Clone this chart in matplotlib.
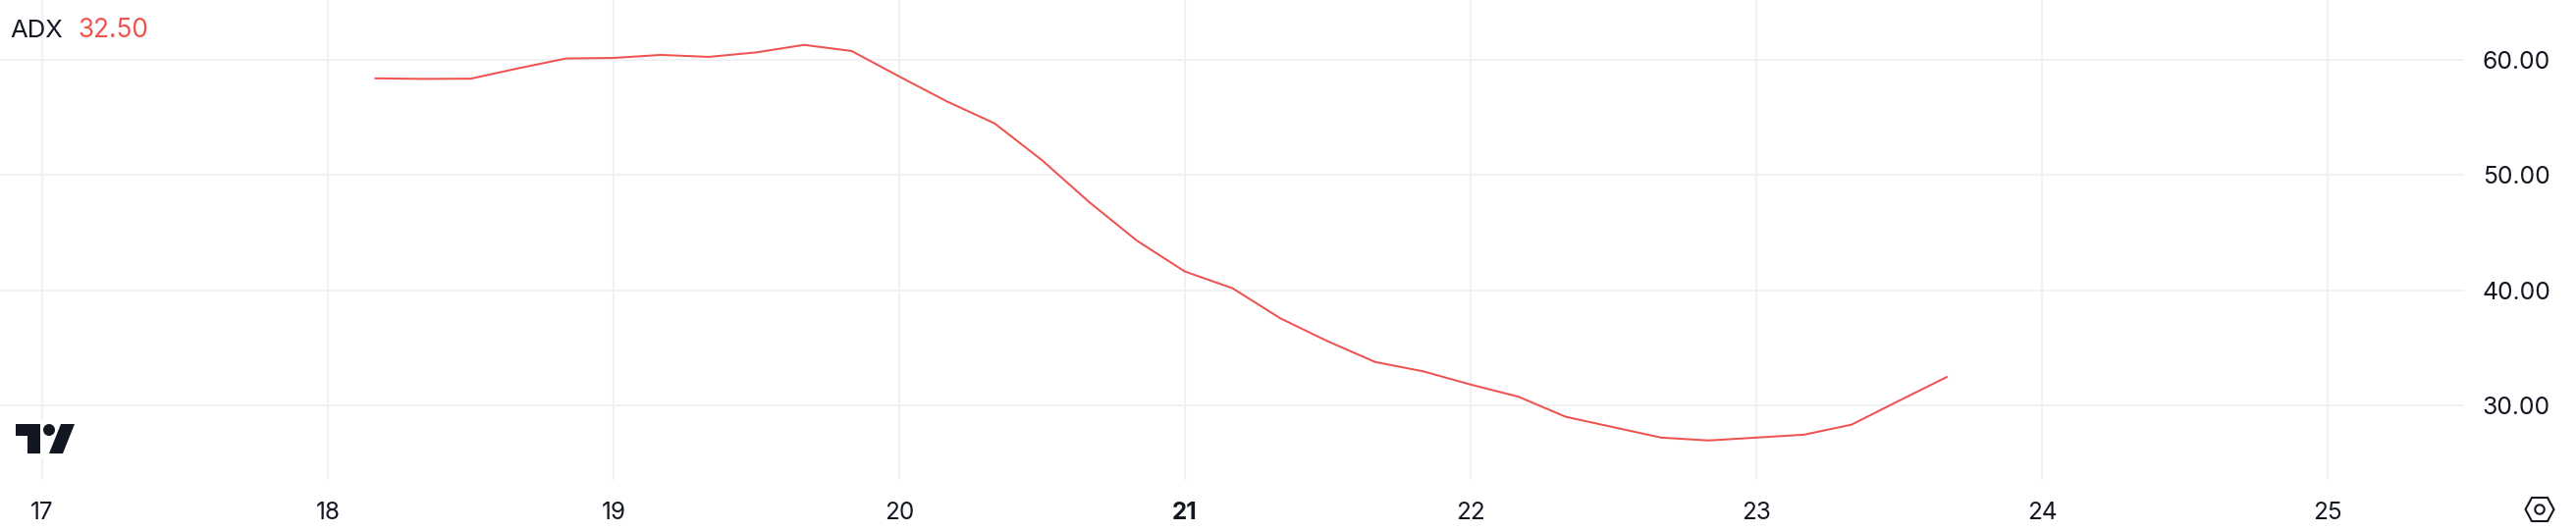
import matplotlib
matplotlib.use('Agg')
import matplotlib.pyplot as plt
from matplotlib.patches import Polygon, Circle, Rectangle

# data
day_ticks = [17, 18, 19, 20, 21, 22, 23, 24, 25]
adx_ticks = [30, 40, 50, 60]
days = [18 + i / 6 for i in range(1, 35)]
adx = [58.40, 58.35, 58.37, 59.27, 60.12, 60.17, 60.43, 60.26, 60.65, 61.30,
       60.77, 58.56, 56.40, 54.50, 51.30, 47.63, 44.30, 41.65, 40.20, 37.60,
       35.60, 33.80, 33.00, 31.85, 30.80, 29.05, 28.15, 27.25, 27.00, 27.25,
       27.50, 28.37, 30.45, 32.50]

W, H = 2624, 542
GRID = '#f0f1f2'
INK = '#131722'
RED = '#ef5350'
plt.rcParams['font.family'] = ['Inter', 'DejaVu Sans']

fig = plt.figure(figsize=(W / 100, H / 100), dpi=100, facecolor='white')

# plot area in pixels: right edge 2510, bottom edge 489
ax = fig.add_axes([0, (H - 489) / H, 2510 / W, 489 / H])
ax.set_xlim(17 - 43 / 291, 17 + (2510 - 43) / 291)
ax.set_ylim(60 - (489 - 61) / 11.75, 60 + 61 / 11.75)
ax.plot(days, adx, color=RED, lw=1.45, zorder=3)

ax.set_xticks(day_ticks)
ax.set_xticklabels([str(d) for d in day_ticks])
ax.set_yticks(adx_ticks)
ax.set_yticklabels(['%.2f' % v for v in adx_ticks])
ax.yaxis.tick_right()
ax.grid(True, color=GRID, lw=1.5)
ax.set_axisbelow(True)
ax.tick_params(axis='x', length=0, pad=15.5, labelsize=17.5, labelcolor=INK)
ax.tick_params(axis='y', length=0, pad=13.5, labelsize=17.8, labelcolor=INK)
for label in ax.get_xticklabels():
    if label.get_text() == '21':
        label.set_fontweight('bold')
for s in ax.spines.values():
    s.set_visible(False)

# overlay in pixel coordinates for legend, logo and settings icon
top = fig.add_axes([0, 0, 1, 1])
top.set_xlim(0, W)
top.set_ylim(H, 0)
top.axis('off')
top.patch.set_alpha(0)

top.text(10, 38, 'ADX', fontsize=18.5, color=INK, va='baseline')
top.text(79, 38, '32.50', fontsize=18.8, color=RED, va='baseline')

top.add_patch(Rectangle((10, 427), 72, 39, color='white', lw=0))
top.add_patch(Polygon([(16, 432), (40.5, 432), (40.5, 462), (28, 462), (28, 444), (16, 444)],
                      color=INK, lw=0))
top.add_patch(Circle((50, 438), 6, color=INK, lw=0))
top.add_patch(Polygon([(62, 432), (76, 432), (64, 462), (50, 462)], color=INK, lw=0))

top.add_patch(Polygon([(2572.5, 519), (2579, 507), (2595, 507), (2601.5, 519), (2595, 531), (2579, 531)],
                      fill=False, ec=INK, lw=1.5))
top.add_patch(Circle((2587, 519), 4.7, fill=False, ec=INK, lw=1.5))

fig.savefig('out.png', dpi=100, facecolor='white')
